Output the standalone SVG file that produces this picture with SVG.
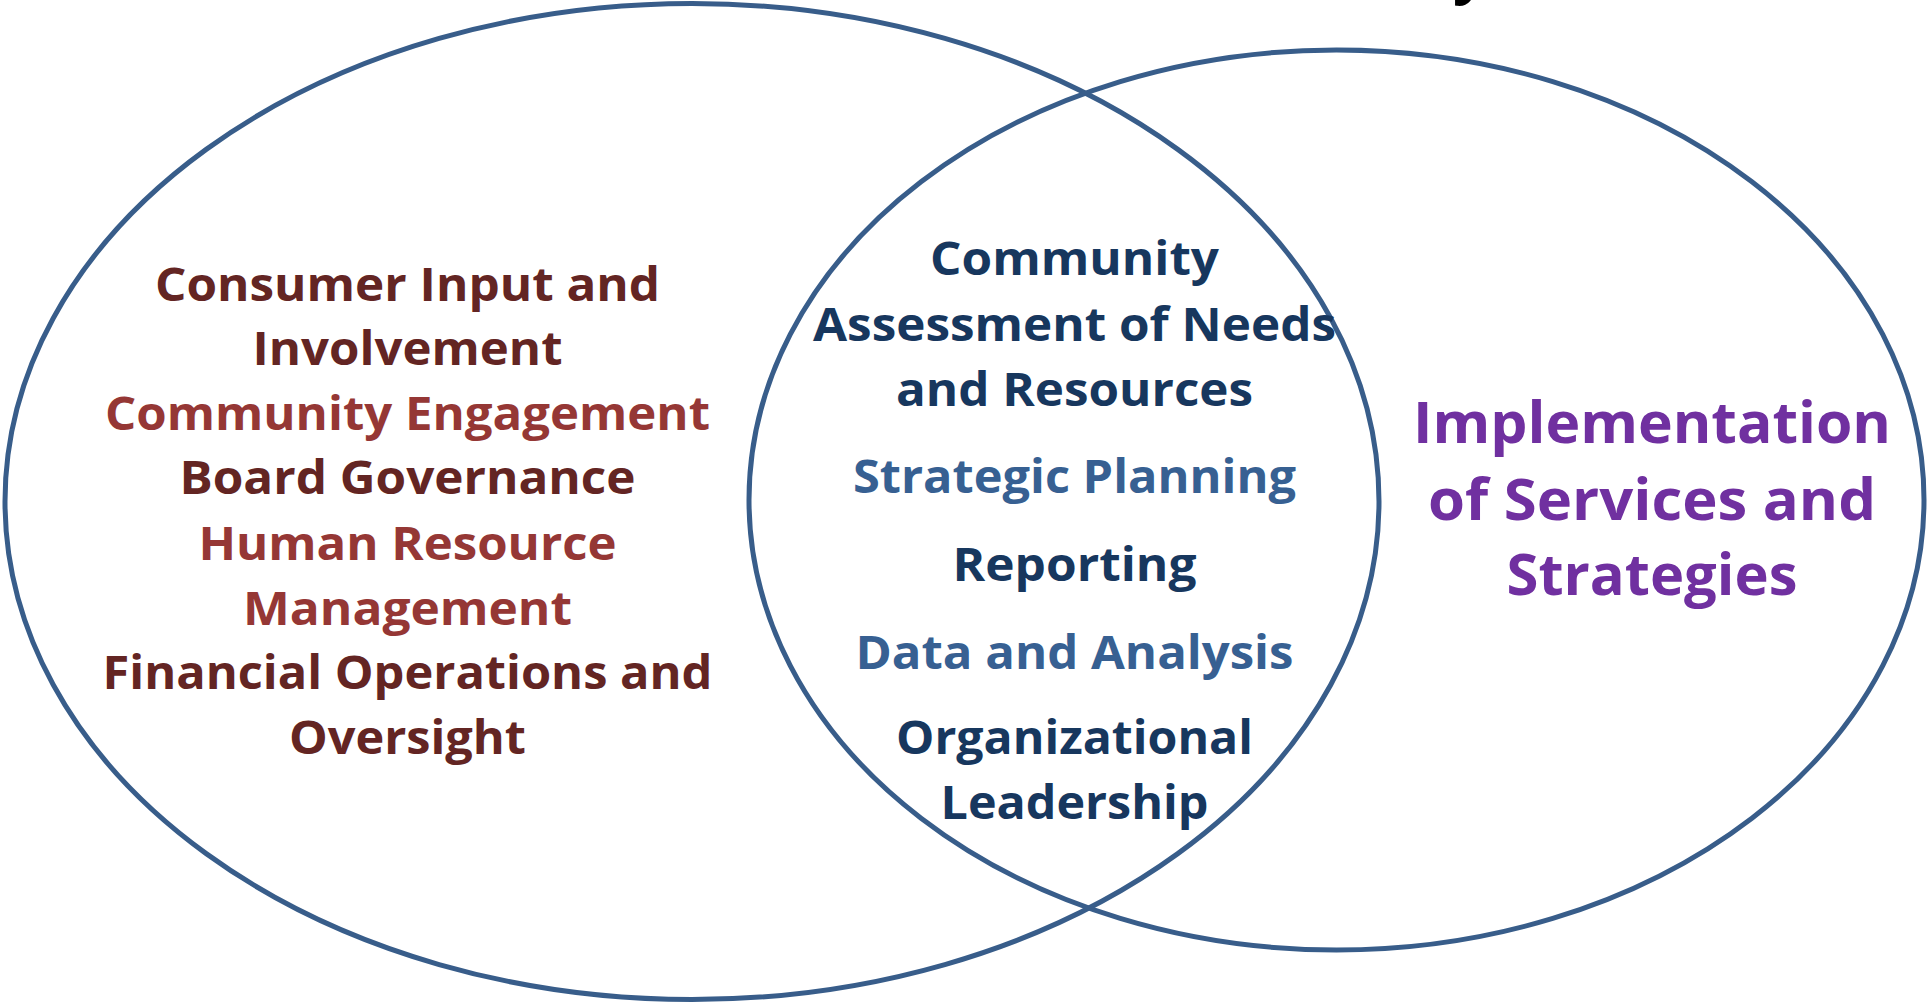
<svg xmlns="http://www.w3.org/2000/svg" width="1928" height="1002" viewBox="0 0 1928 1002">
  <style>
    .ring { fill: none; stroke: #385D8A; stroke-width: 5; }
    text { font-family: "Open Sans", "Liberation Sans", sans-serif; font-weight: 700; text-anchor: middle; }
    .s { font-size: 46px; }
    .l { font-size: 58px; }
    .maroon { fill: #632523; }
    .rust { fill: #953735; }
    .navy { fill: #17375E; }
    .steel { fill: #376092; }
    .violet { fill: #7030A0; }
  </style>
  <rect width="1928" height="1002" fill="#FFFFFF"/>

  <!-- tail of a title letter cut by the top edge -->
  <text x="1453" y="-9" style="font-size:60px;text-anchor:start" fill="#000000">y</text>

  <g id="set-operations">
    <ellipse class="ring" cx="692" cy="501.5" rx="687" ry="498"/>
    <text class="s maroon" x="407.5" y="301" textLength="505" lengthAdjust="spacingAndGlyphs">Consumer Input and</text>
    <text class="s maroon" x="407.5" y="365" textLength="310" lengthAdjust="spacingAndGlyphs">Involvement</text>
    <text class="s rust" x="407.5" y="430" textLength="605" lengthAdjust="spacingAndGlyphs">Community Engagement</text>
    <text class="s maroon" x="407.5" y="494" textLength="456" lengthAdjust="spacingAndGlyphs">Board Governance</text>
    <text class="s rust" x="407.5" y="559.5" textLength="418" lengthAdjust="spacingAndGlyphs">Human Resource</text>
    <text class="s rust" x="407.5" y="625" textLength="329" lengthAdjust="spacingAndGlyphs">Management</text>
    <text class="s maroon" x="407.5" y="689" textLength="610" lengthAdjust="spacingAndGlyphs">Financial Operations and</text>
    <text class="s maroon" x="407.5" y="754" textLength="237" lengthAdjust="spacingAndGlyphs">Oversight</text>
  </g>

  <g id="set-services">
    <ellipse class="ring" cx="1336.5" cy="500" rx="587.5" ry="450"/>
    <text class="l violet" x="1652" y="442.5" textLength="478" lengthAdjust="spacingAndGlyphs">Implementation</text>
    <text class="l violet" x="1652" y="520" textLength="448" lengthAdjust="spacingAndGlyphs">of Services and</text>
    <text class="l violet" x="1652" y="595" textLength="291" lengthAdjust="spacingAndGlyphs">Strategies</text>
  </g>

  <g id="shared-area">
    <text class="s navy" x="1074.5" y="275" textLength="289" lengthAdjust="spacingAndGlyphs">Community</text>
    <text class="s navy" x="1074.5" y="340.5" textLength="523" lengthAdjust="spacingAndGlyphs">Assessment of Needs</text>
    <text class="s navy" x="1074.5" y="406" textLength="357" lengthAdjust="spacingAndGlyphs">and Resources</text>
    <text class="s steel" x="1074.5" y="493" textLength="443" lengthAdjust="spacingAndGlyphs">Strategic Planning</text>
    <text class="s navy" x="1074.5" y="581" textLength="244" lengthAdjust="spacingAndGlyphs">Reporting</text>
    <text class="s steel" x="1074.5" y="669" textLength="438" lengthAdjust="spacingAndGlyphs">Data and Analysis</text>
    <text class="s navy" x="1074.5" y="754" textLength="357" lengthAdjust="spacingAndGlyphs">Organizational</text>
    <text class="s navy" x="1074.5" y="818.5" textLength="268" lengthAdjust="spacingAndGlyphs">Leadership</text>
  </g>
</svg>
